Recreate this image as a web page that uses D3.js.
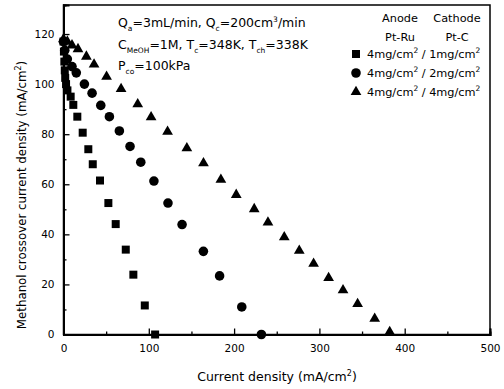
<!DOCTYPE html>
<html>
<head>
<meta charset="utf-8">
<script src="https://cdn.jsdelivr.net/npm/d3@7/dist/d3.min.js"></script>
<style>
  html, body { margin: 0; padding: 0; background: #fff; }
  svg { display: block; font-family: "DejaVu Sans", sans-serif; }
</style>
</head>
<body>
<svg id="chart" width="504" height="389"></svg>
<script>
// Crossover current density vs. cell current density for three Pt loadings
const seriesNames = ["1mg", "2mg", "4mg"];
const legendAnode = "4mg/cm";
const legendCathode = ["1mg/cm", "2mg/cm", "4mg/cm"];

// cathode 1 mg/cm2 (squares)
const sqX = [0, 0.5, 1, 1.5, 2, 3, 4.6, 8.4, 11.5, 16.2, 22.5, 29.1, 34.3, 42.8, 52.6, 61.2, 73, 81.9, 95.3, 107.4];
const sqY = [117, 113, 109, 105.5, 102.5, 100, 97.5, 95, 91.7, 87, 80.6, 74, 68, 61.5, 52.5, 44.1, 33.9, 23.9, 11.6, 0];

// cathode 2 mg/cm2 (circles)
const ciX = [0, 1.5, 4.5, 10, 15, 24.5, 33.5, 43.7, 53.8, 65.5, 78, 90.6, 106, 122.5, 139, 164, 183, 209, 232];
const ciY = [117, 113.5, 110, 107, 104.5, 100, 96.4, 91.5, 87, 81.3, 75.1, 68.8, 61.3, 52.5, 43.9, 33.2, 23.4, 11, 0];

// cathode 4 mg/cm2 (triangles)
const trX = [0, 4.5, 10, 17, 26.8, 35.8, 50.5, 67.5, 87, 102.7, 122, 144.6, 164.1, 184.5, 202.5, 223.6, 239.7, 258.8, 276.4, 293.2, 310.8, 327.7, 344.8, 364.8, 382.4];
const trY = [118, 117, 115.5, 114, 111, 107.9, 103, 98.1, 92, 86.8, 81, 74.4, 68.4, 61.8, 55.8, 50.1, 44.8, 38.9, 33.5, 28.3, 22.6, 17.7, 12.2, 6.3, 1];

const xTicks = [0, 100, 200, 300, 400, 500];
const xMinor = [50, 150, 250, 350, 450];
const yTicks = [0, 20, 40, 60, 80, 100, 120];
const yMinor = [10, 30, 50, 70, 90, 110];

const svg = d3.select("#chart");
const mLeft = 63.5, mRight = 490, mTop = 5, mBottom = 334.5;

const x = d3.scaleLinear().domain([0, 500]).range([mLeft, mRight]);
const y = d3.scaleLinear().domain([0, 131.6]).range([mBottom, mTop]);

const zip = (a, b) => a.map((v, i) => [v, b[i]]);
const series = [
  { pts: zip(sqX, sqY), shape: d3.symbolSquare, size: 64 },
  { pts: zip(ciX, ciY), shape: d3.symbolCircle, size: 72 },
  { pts: zip(trX, trY), shape: d3.symbolTriangle, size: 50 }
];

const plot = svg.append("g");
series.forEach(s => {
  plot.selectAll(null).data(s.pts).enter().append("path")
    .attr("d", d3.symbol().type(s.shape).size(s.size))
    .attr("transform", d => `translate(${x(d[0])},${y(d[1])})`)
    .attr("fill", "#000");
});

// frame
svg.append("rect")
  .attr("x", mLeft).attr("y", mTop)
  .attr("width", mRight - mLeft).attr("height", mBottom - mTop)
  .attr("fill", "none").attr("stroke", "#000").attr("stroke-width", 1.5);

// axes with inward ticks
svg.append("g").attr("transform", `translate(0,${mBottom})`)
  .call(d3.axisBottom(x).tickValues(xTicks).tickSize(-6).tickPadding(10).tickFormat(d3.format("d")));
svg.append("g").attr("transform", `translate(0,${mBottom})`)
  .call(d3.axisBottom(x).tickValues(xMinor).tickSize(-3).tickFormat(""));
svg.append("g").attr("transform", `translate(${mLeft},0)`)
  .call(d3.axisLeft(y).tickValues(yTicks).tickSize(-6).tickPadding(9).tickFormat(d3.format("d")));
svg.append("g").attr("transform", `translate(${mLeft},0)`)
  .call(d3.axisLeft(y).tickValues(yMinor).tickSize(-3).tickFormat(""));

svg.selectAll(".domain").attr("stroke-width", 2);
svg.selectAll(".tick line").attr("stroke-width", 1.3);
svg.selectAll(".tick text").attr("font-size", 10.5).attr("font-family", "DejaVu Sans");

// axis titles
const xt = svg.append("text").attr("x", 277).attr("y", 381)
  .attr("text-anchor", "middle").attr("font-size", 12.5);
xt.append("tspan").text("Current density (mA/cm");
xt.append("tspan").attr("dy", -5).attr("font-size", 8).text("2");
xt.append("tspan").attr("dy", 5).text(")");

const yt = svg.append("text")
  .attr("transform", "translate(26,195) rotate(-90)")
  .attr("text-anchor", "middle").attr("font-size", 11.8);
yt.append("tspan").text("Methanol crossover current density (mA/cm");
yt.append("tspan").attr("dy", -5).attr("font-size", 8).text("2");
yt.append("tspan").attr("dy", 5).text(")");

// operating conditions
function richLine(xp, yp, parts) {
  const t = svg.append("text").attr("x", xp).attr("y", yp).attr("font-size", 12.5);
  let shift = 0;
  parts.forEach(p => {
    const sh = p.sub ? 4 : p.sup ? -5 : 0;
    t.append("tspan").attr("dy", sh - shift)
      .attr("font-size", p.sub || p.sup ? 7.5 : 12.5).text(p.t);
    shift = sh;
  });
  return t;
}
richLine(118, 27, [{t: "Q"}, {t: "a", sub: 1}, {t: "=3mL/min, Q"}, {t: "c", sub: 1}, {t: "=200cm"}, {t: "3", sup: 1}, {t: "/min"}]);
richLine(118, 49, [{t: "C"}, {t: "MeOH", sub: 1}, {t: "=1M, T"}, {t: "c", sub: 1}, {t: "=348K, T"}, {t: "ch", sub: 1}, {t: "=338K"}]);
richLine(118, 70, [{t: "P"}, {t: "co", sub: 1}, {t: "=100kPa"}]);

// legend
const lg = svg.append("g").attr("font-size", 11.3);
lg.append("text").attr("x", 400).attr("y", 22).attr("text-anchor", "middle").text("Anode");
lg.append("text").attr("x", 457).attr("y", 22).attr("text-anchor", "middle").text("Cathode");
lg.append("text").attr("x", 400).attr("y", 41).attr("text-anchor", "middle").text("Pt-Ru");
lg.append("text").attr("x", 457).attr("y", 41).attr("text-anchor", "middle").text("Pt-C");
series.forEach((s, i) => {
  const yy = 54 + i * 19;
  lg.append("path").attr("d", d3.symbol().type(s.shape).size(s.size))
    .attr("transform", `translate(356,${yy})`).attr("fill", "#000");
  const t = lg.append("text").attr("x", 367).attr("y", yy + 4);
  t.append("tspan").text(legendAnode);
  t.append("tspan").attr("dy", -5).attr("font-size", 7.5).text("2");
  t.append("tspan").attr("dy", 5).text(" / " + legendCathode[i]);
  t.append("tspan").attr("dy", -5).attr("font-size", 7.5).text("2");
});
</script>
</body>
</html>
